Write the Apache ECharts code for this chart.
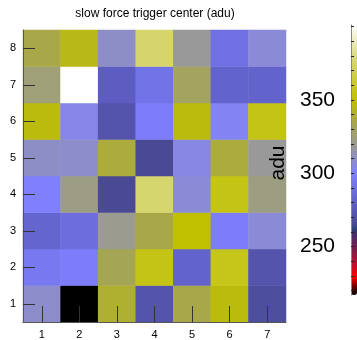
<!DOCTYPE html>
<html>
<head>
<meta charset="utf-8">
<script src="https://cdn.jsdelivr.net/npm/echarts@6/dist/echarts.min.js"></script>
<style>
html,body{margin:0;padding:0;background:#fff;}
#c{width:357px;height:340px;}
</style>
</head>
<body>
<div id="c"></div>
<script>
// categories
const xCats = ['1','2','3','4','5','6','7'];
const yCats = ['1','2','3','4','5','6','7','8'];
// values (adu), one array per row, columns 1..7
const row1 = [309, 217, 340, 272, 335, 347, 268];
const row2 = [295, 298, 332, 355, 282, 356, 272];
const row3 = [283, 288, 320, 335, 350, 298, 307];
const row4 = [300, 322, 265, 376, 307, 355, 323];
const row5 = [310, 309, 337, 265, 305, 337, 318];
const row6 = [347, 304, 272, 298, 347, 302, 355];
const row7 = [325, 401, 278, 292, 330, 282, 282];
const row8 = [335, 345, 310, 375, 318, 290, 307];
const rows = [row1,row2,row3,row4,row5,row6,row7,row8];
const zMin = 217, zMax = 401;
const colorTicks = [220,230,240,250,260,270,280,290,300,310,320,330,340,350,360,370,380,390,400];
const colorLabels = [250,300,350];

// palette stops
const stops = [
  [217,'#000000'],[222,'#600000'],[229,'#ff0000'],[238,'#c01030'],[250,'#702050'],
  [260,'#403070'],[262,'#204878'],[264,'#484890'],[275,'#5858b8'],[300,'#8080ff'],
  [318,'#999999'],[335,'#a8a848'],[350,'#c0c000'],[378,'#d8d878'],[401,'#ffffff']
];
function hex(c){return [parseInt(c.substr(1,2),16),parseInt(c.substr(3,2),16),parseInt(c.substr(5,2),16)];}
function colAt(v){
  for(let i=0;i<stops.length-1;i++){
    const a=stops[i],b=stops[i+1];
    if(v>=a[0]&&v<=b[0]){
      const t=(v-a[0])/(b[0]-a[0]);const ca=hex(a[1]),cb=hex(b[1]);
      return 'rgb('+ca.map((x,k)=>Math.round(x+(cb[k]-x)*t)).join(',')+')';
    }
  }
  return stops[stops.length-1][1];
}
const palette=[];
for(let v=zMin;v<=zMax;v++) palette.push(colAt(v));

const data=[];
rows.forEach((r,yi)=>r.forEach((v,xi)=>data.push([xi,yi,v])));

const chart = echarts.init(document.getElementById('c'));
const font = 'Liberation Sans, Arial, Helvetica, sans-serif';
chart.setOption({
  animation:false,
  backgroundColor:'#fff',
  grid:[
    {left:23,right:71,top:30,bottom:10},
    {left:351,width:6,top:25,height:270}
  ],
  xAxis:[
    {type:'category',data:xCats,gridIndex:0,z:10,
     axisLine:{lineStyle:{color:'#555'}},
     axisTick:{show:true,inside:true,length:16,alignWithLabel:true,lineStyle:{color:'#333',width:1}},
     axisLabel:{margin:7,fontSize:11,color:'#000',fontFamily:font},
     splitLine:{show:false}},
    {type:'value',gridIndex:1,show:false,min:0,max:1}
  ],
  yAxis:[
    {type:'category',data:yCats,gridIndex:0,z:10,
     axisLine:{lineStyle:{color:'#555'}},
     axisTick:{show:true,inside:true,length:12,alignWithLabel:true,lineStyle:{color:'#333',width:1}},
     axisLabel:{margin:7,fontSize:11,color:'#000',fontFamily:font},
     splitLine:{show:false}},
    {type:'value',gridIndex:1,min:zMin,max:zMax,position:'left',z:10,
     axisLine:{show:true,lineStyle:{color:'#888'}},
     axisTick:{show:true,inside:true,length:3,customValues:colorTicks,lineStyle:{color:'#222'}},
     axisLabel:{margin:16,fontSize:21,color:'#000',fontFamily:font,customValues:colorLabels},
     splitLine:{show:false}}
  ],
  visualMap:{
    type:'continuous',min:zMin,max:zMax,calculable:false,seriesIndex:0,
    inRange:{color:palette},
    orient:'vertical',left:351,top:25,itemWidth:6,itemHeight:270,padding:0,
    text:null,showLabel:false,hoverLink:false
  },
  series:[{
    type:'heatmap',xAxisIndex:0,yAxisIndex:0,data:data,
    itemStyle:{borderWidth:0},
    emphasis:{disabled:true},
    progressive:0
  }],
  graphic:[
    {type:'text',x:155,y:14,style:{text:'slow force trigger center (adu)',font:'12px '+font,fill:'#000',textAlign:'center',textVerticalAlign:'middle'},z:100},
    {type:'text',x:278,y:163,rotation:Math.PI/2,style:{text:'adu',font:'21px '+font,fill:'#000',textAlign:'center',textVerticalAlign:'middle'},z:100}
  ]
});
</script>
</body>
</html>
